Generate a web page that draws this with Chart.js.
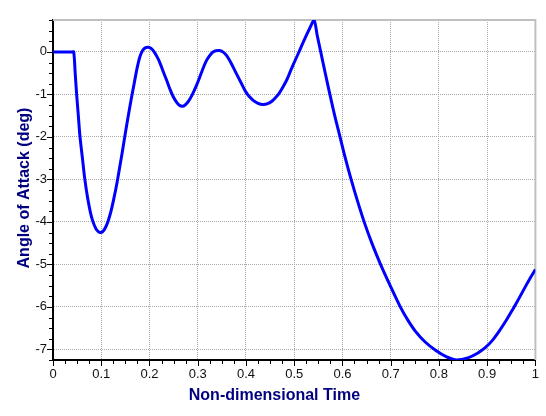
<!DOCTYPE html>
<html>
<head>
<meta charset="utf-8">
<script src="https://cdn.jsdelivr.net/npm/chart.js@4/dist/chart.umd.min.js"></script>
<style>
  html, body { margin: 0; padding: 0; background: #ffffff; }
  canvas { display: block; }
</style>
</head>
<body>
<canvas id="c" width="546" height="416"></canvas>
<script>
// ---- Data ----
const timeValues = [
  0, 0.02, 0.04, 0.043, 0.046, 0.049, 0.0525, 0.056, 0.061, 0.066, 0.072, 0.078, 0.083, 0.089, 0.094, 0.0985,
  0.103, 0.108, 0.114, 0.12, 0.126, 0.132, 0.138, 0.144, 0.15, 0.156, 0.162, 0.168, 0.174, 0.18, 0.186, 0.192, 0.197,
  0.203, 0.209, 0.215, 0.221, 0.228, 0.235, 0.242, 0.249, 0.256, 0.262, 0.268,
  0.274, 0.281, 0.289, 0.297, 0.304, 0.31, 0.317, 0.324, 0.331, 0.338, 0.345,
  0.352, 0.36, 0.368, 0.377, 0.386, 0.393, 0.399, 0.406, 0.415, 0.425, 0.435,
  0.445, 0.455, 0.462, 0.469, 0.477, 0.485, 0.492, 0.5, 0.508, 0.516, 0.524, 0.532, 0.541,
  0.548, 0.555, 0.564, 0.574, 0.584, 0.595, 0.606, 0.618, 0.631, 0.645, 0.661, 0.679, 0.699, 0.72,
  0.735, 0.751, 0.771, 0.793, 0.815, 0.837,
  0.86, 0.88, 0.896, 0.91, 0.925, 0.94, 0.953, 0.966, 0.979, 0.99, 1.0
];
const aoaValues = [
  0, 0, 0, 0, -0.5, -1.0, -1.5, -2.0, -2.5, -3.0, -3.45, -3.8, -4.0, -4.16, -4.23, -4.25,
  -4.23, -4.15, -3.99, -3.76, -3.46, -3.12, -2.73, -2.33, -1.91, -1.51, -1.12, -0.76, -0.4, -0.12, 0.04, 0.1, 0.11,
  0.086, 0.014, -0.1, -0.24, -0.45, -0.65, -0.865, -1.05, -1.18, -1.255, -1.28,
  -1.25, -1.16, -1.0, -0.8, -0.6, -0.42, -0.23, -0.1, -0.01, 0.025, 0.03,
  0.0, -0.09, -0.24, -0.44, -0.64, -0.8, -0.93, -1.04, -1.14, -1.21, -1.24,
  -1.22, -1.15, -1.07, -0.97, -0.82, -0.65, -0.46, -0.25, -0.05, 0.16, 0.36, 0.55, 0.75,
  0.37, 0.0, -0.48, -1.0, -1.5, -2.0, -2.5, -3.0, -3.5, -4.0, -4.5, -5.0, -5.5, -6.0,
  -6.3, -6.57, -6.82, -7.02, -7.17, -7.25,
  -7.2, -7.09, -6.96, -6.8, -6.57, -6.31, -6.06, -5.8, -5.53, -5.31, -5.12
];
const xTickValues = [0, 0.1, 0.2, 0.3, 0.4, 0.5, 0.6, 0.7, 0.8, 0.9, 1];
const yTickValues = [0, -1, -2, -3, -4, -5, -6, -7];
const xTitle = 'Non-dimensional Time';
const yTitle = 'Angle of Attack (deg)';

const points = timeValues.map((t, i) => ({ x: t, y: aoaValues[i] }));
const FONT = '"Liberation Sans", Arial, sans-serif';

const decorPlugin = {
  id: 'decor',
  beforeDatasetsDraw(chart) {
    const { ctx, chartArea: a } = chart;
    ctx.save();
    ctx.strokeStyle = '#c0c0c0';
    ctx.lineWidth = 2;
    ctx.beginPath();
    ctx.moveTo(a.left, a.top);
    ctx.lineTo(a.right, a.top);
    ctx.lineTo(a.right, a.bottom);
    ctx.stroke();
    ctx.restore();
  },
  afterDraw(chart) {
    const { ctx, chartArea: a, scales } = chart;
    const xs = scales.x, ys = scales.y;
    ctx.save();
    ctx.strokeStyle = '#000';
    ctx.lineWidth = 1;
    for (let k = 0; k <= 40; k++) {
      const v = k * 0.025;
      const px = Math.round(xs.getPixelForValue(v)) + 0.5;
      const len = (k % 4 === 0) ? 6 : 4;
      ctx.beginPath();
      ctx.moveTo(px, a.bottom);
      ctx.lineTo(px, a.bottom + len);
      ctx.stroke();
    }
    for (let k = -29; k <= 3; k++) {
      const v = k * 0.25;
      const py = Math.round(ys.getPixelForValue(v)) + 0.5;
      const len = (k % 4 === 0) ? 6 : 4;
      ctx.beginPath();
      ctx.moveTo(a.left - len, py);
      ctx.lineTo(a.left, py);
      ctx.stroke();
    }
    ctx.fillStyle = '#000080';
    ctx.font = 'bold 16px ' + FONT;
    ctx.textAlign = 'center';
    ctx.textBaseline = 'middle';
    ctx.fillText(xTitle, a.left + (a.right - a.left) * 0.459, 396);
    ctx.translate(25, (a.top + a.bottom) / 2 - 2);
    ctx.rotate(-Math.PI / 2);
    ctx.fillText(yTitle, 0, 0);
    ctx.restore();
  }
};

new Chart(document.getElementById('c'), {
  type: 'line',
  data: {
    datasets: [{
      data: points,
      borderColor: '#0000ff',
      borderWidth: 3,
      pointRadius: 0,
      fill: false,
      tension: 0.3
    }]
  },
  options: {
    responsive: false,
    devicePixelRatio: 1,
    animation: false,
    layout: { padding: { top: 20, right: 9, left: 0, bottom: 0 } },
    plugins: { legend: { display: false }, tooltip: { enabled: false } },
    scales: {
      x: {
        type: 'linear',
        min: 0, max: 1,
        afterFit(s) { s.height = 56; },
        afterBuildTicks(s) { s.ticks = xTickValues.map(v => ({ value: v })); },
        ticks: {
          autoSkip: false, maxRotation: 0, padding: 7,
          color: '#111', font: { family: FONT, size: 13 },
          callback: (v) => String(Math.round(v * 10) / 10)
        },
        grid: { color: '#a8a8a8', lineWidth: 1, drawTicks: false },
        border: { color: '#000', width: 2, dash: [1, 1] }
      },
      y: {
        type: 'linear',
        min: -7.25, max: 0.75,
        afterFit(s) { s.width = 53; },
        afterBuildTicks(s) { s.ticks = yTickValues.map(v => ({ value: v })); },
        ticks: {
          padding: 6,
          color: '#111', font: { family: FONT, size: 13 },
          callback: (v) => String(v)
        },
        grid: { color: '#a8a8a8', lineWidth: 1, drawTicks: false },
        border: { color: '#000', width: 2, dash: [1, 1] }
      }
    }
  },
  plugins: [decorPlugin]
});
</script>
</body>
</html>
